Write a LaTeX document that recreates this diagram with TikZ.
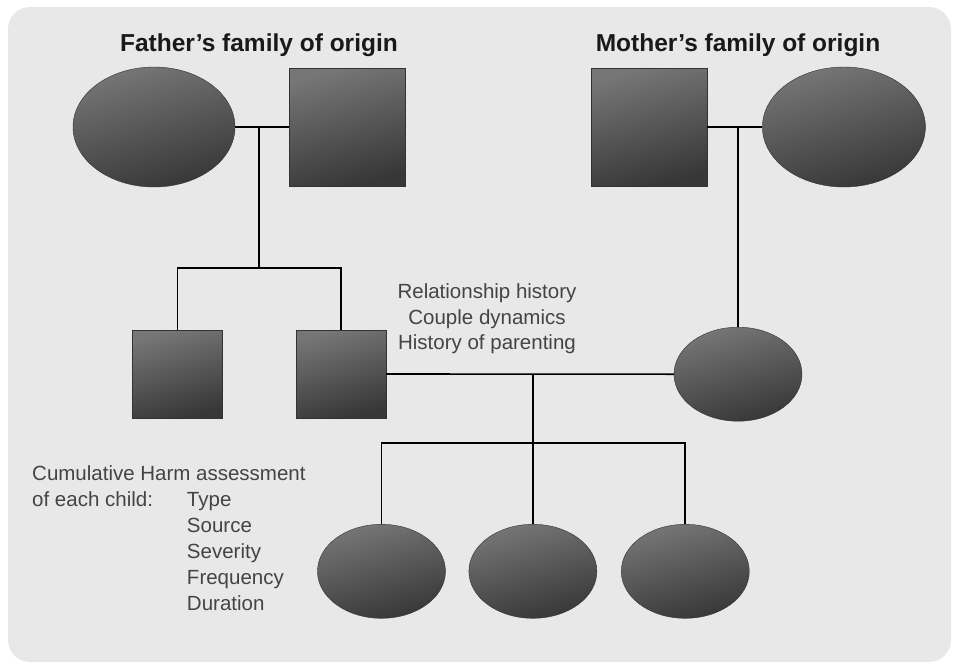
\documentclass[tikz,border=0pt]{standalone}
\usepackage{fontspec}
\setmainfont{Liberation Sans}
\usetikzlibrary{shapes.geometric, positioning, calc}

\definecolor{paper}{RGB}{232,232,232}
\definecolor{shapetop}{RGB}{118,118,118}
\definecolor{shapebot}{RGB}{55,55,55}
\definecolor{labelgray}{RGB}{68,68,68}

\begin{document}
\begin{tikzpicture}[
  x=1pt, y=-1pt,
  every node/.style={font=\fontsize{20.5}{25.5}\selectfont},
  female/.style={ellipse, draw=black!80, thin, inner sep=0pt,
             top color=shapetop, bottom color=shapebot, shading angle=15},
  male/.style={rectangle, draw=black!80, thin, inner sep=0pt,
             top color=shapetop, bottom color=shapebot, shading angle=15},
  elder/.style={minimum width=116pt, minimum height=118pt},
  sibling/.style={minimum width=90pt, minimum height=88pt},
  kid/.style={minimum width=128pt, minimum height=94pt},
  line/.style={black, line width=1.6pt},
  title/.style={font=\fontsize{24.5}{29}\selectfont\bfseries, text=black!90, inner sep=0pt},
  lab/.style={text=labelgray, inner sep=0pt}
]

% Page
\useasboundingbox (0,0) rectangle (959,667);
\fill[paper, rounded corners=22pt] (8,7) rectangle (951,662);

% Father's family of origin
\node[female, minimum width=162pt, minimum height=120pt] (fmum) at (154,127) {};
\node[male, elder, right=54pt of fmum] (fdad) {};
\coordinate (fm) at ($(fmum.east)!0.44!(fdad.west)$);
\coordinate[below=141pt of fm] (fbar);

% Mother's family of origin
\node[male, elder] (mdad) at (649,127) {};
\node[female, minimum width=163pt, minimum height=120pt, right=55pt of mdad] (mmum) {};
\coordinate (mm) at ($(mdad.east)!0.56!(mmum.west)$);

% Titles
\node[title, anchor=base] (ftitle) at ($(fm)+(0,-76)$) {Father's family of origin};
\node[title, anchor=base] (mtitle) at ($(mm)+(0,-76)$) {Mother's family of origin};

% Couple
\node[female, kid, below=200pt of mm] (mother) {};
\node[male, sibling] (father) at (341,374) {};
\node[male, sibling, left=73pt of father] (uncle) {};
\coordinate (cpl) at ($(father.east)!0.51!(mother.west)$);
\coordinate[below=69pt of cpl] (cbar);

% Children
\node[female, kid, below=81pt of cbar] (kid2) {};
\node[female, kid, left=23pt of kid2] (kid1) {};
\node[female, kid, right=24pt of kid2] (kid3) {};

% Lines
\draw[line] (fmum.east) -- (fdad.west);
\draw[line] (fm) -- (fbar);
\draw[line] (uncle.north) |- (fbar) -| (father.north);
\draw[line] (mdad.east) -- (mmum.west);
\draw[line] (mm) -- (mother.north);
\draw[line] (father.east) -- (mother.west);
\draw[line] (cpl) -- (cbar);
\draw[line] (kid1.north) |- (cbar) -| (kid3.north);
\draw[line] (cbar) -- (kid2.north);

% Notes
\node[lab, align=center] (rel) at (487,319)
  {Relationship history\\Couple dynamics\\History of parenting};
\node[lab, anchor=base west, font=\fontsize{20.5}{26}\selectfont] (harm) at (32,480) {%
  \begin{tabular}[t]{@{}l@{\hspace{34pt}}l@{}}
  \multicolumn{2}{@{}l@{}}{Cumulative Harm assessment}\\
  of each child: & Type\\
  & Source\\
  & Severity\\
  & Frequency\\
  & Duration
  \end{tabular}};

\end{tikzpicture}
\end{document}
